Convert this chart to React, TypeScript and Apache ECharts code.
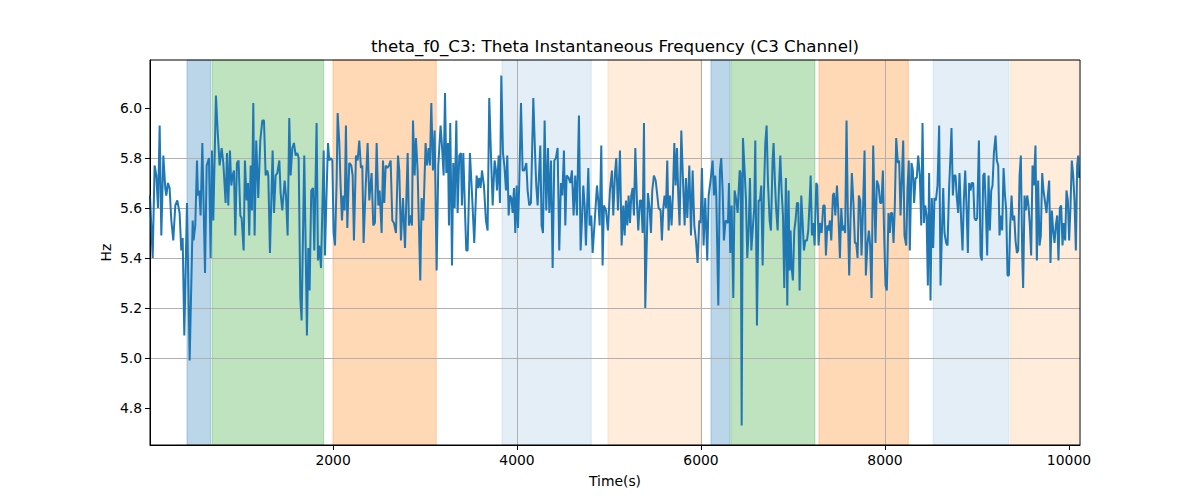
import React, { useEffect, useRef } from "react";
import * as echarts from "echarts";

// [time (s), instantaneous theta frequency (Hz)]
const readings: [number, number][] = [
  [10, 5.65], [39, 5.40], [60, 5.77], [79, 5.73], [97, 5.60], [115, 5.93], [133, 5.49], [155, 5.81], [176, 5.68], [187, 5.65],
  [205, 5.70], [223, 5.68], [242, 5.55], [263, 5.47], [285, 5.61], [307, 5.63], [332, 5.58], [350, 5.43], [365, 5.48], [383, 5.09],
  [412, 5.62], [441, 4.99], [474, 5.55], [484, 5.47], [502, 5.53], [521, 5.79], [531, 5.65], [546, 5.67], [560, 5.57], [579, 5.86],
  [608, 5.34], [626, 5.77], [651, 5.80], [669, 5.40], [684, 5.83], [698, 5.55], [727, 6.05], [745, 5.91], [767, 5.77], [789, 5.84],
  [807, 5.78], [832, 5.62], [847, 5.82], [861, 5.61], [879, 5.83], [894, 5.69], [908, 5.73], [923, 5.75], [937, 5.49], [955, 5.78],
  [973, 5.79], [992, 5.57], [1006, 5.56], [1028, 5.43], [1042, 5.79], [1060, 5.63], [1075, 5.70], [1089, 5.49], [1104, 5.77], [1118, 5.59],
  [1133, 6.02], [1147, 5.49], [1165, 5.87], [1187, 5.64], [1209, 5.87], [1231, 5.95],
  [1249, 5.95], [1267, 5.73], [1285, 5.75], [1296, 5.73], [1314, 5.42], [1343, 5.83], [1358, 5.58], [1376, 5.73], [1394, 5.74], [1416, 5.79],
  [1430, 5.66], [1448, 5.59], [1474, 5.71], [1488, 5.65], [1506, 5.49], [1524, 5.96], [1539, 5.73], [1557, 5.84], [1575, 5.86], [1593, 5.81],
  [1611, 5.82], [1626, 5.80], [1644, 5.24], [1658, 5.15], [1687, 5.81], [1702, 5.45], [1716, 5.09], [1731, 5.44], [1745, 5.27], [1763, 5.67],
  [1782, 5.68], [1796, 5.43], [1821, 5.94], [1836, 5.39], [1850, 5.45], [1869, 5.36], [1898, 5.83], [1912, 5.41], [1927, 5.63], [1945, 5.86],
  [1959, 5.79], [1974, 5.80], [1992, 5.79], [2006, 5.50], [2021, 5.45], [2039, 5.71], [2050, 5.98], [2068, 5.86], [2082, 5.69], [2097, 5.55],
  [2111, 5.65], [2126, 5.59], [2140, 5.93], [2155, 5.52], [2176, 5.78], [2198, 5.77], [2213, 5.73], [2227, 5.47], [2249, 5.81], [2267, 5.79],
  [2285, 5.87], [2303, 5.76], [2318, 5.77], [2332, 5.46], [2354, 5.68], [2376, 5.86], [2394, 5.63], [2419, 5.74], [2437, 5.53], [2455, 5.54],
  [2474, 5.86], [2492, 5.61], [2506, 5.67],
  [2528, 5.50], [2543, 5.79], [2557, 5.62], [2572, 5.77], [2590, 5.76], [2608, 5.77], [2626, 5.79], [2644, 5.55], [2662, 5.54], [2684, 5.50],
  [2706, 5.81], [2720, 5.75], [2738, 5.47], [2760, 5.64], [2782, 5.44], [2811, 5.82], [2825, 5.53], [2843, 5.57], [2858, 5.53], [2869, 5.95],
  [2887, 5.73], [2901, 5.88], [2919, 5.75], [2948, 5.31], [2963, 5.64], [2981, 5.55], [3006, 5.86], [3021, 5.77], [3039, 5.84], [3053, 5.77],
  [3068, 6.02], [3086, 5.75], [3104, 5.91], [3126, 5.35], [3144, 5.77], [3169, 5.93], [3184, 5.85], [3202, 5.73], [3217, 6.06], [3231, 5.74],
  [3249, 5.86], [3260, 5.53], [3274, 5.94], [3285, 5.63], [3293, 5.37], [3307, 5.78], [3322, 5.60], [3340, 5.95], [3354, 5.58], [3372, 5.81],
  [3390, 5.82], [3401, 5.61], [3416, 5.82], [3434, 5.59], [3448, 5.43], [3463, 5.43], [3488, 5.82], [3510, 5.66], [3535, 5.46], [3561, 5.73],
  [3575, 5.68], [3590, 5.72], [3604, 5.68], [3619, 5.75], [3640, 5.69], [3662, 5.55], [3680, 5.51], [3698, 6.04], [3716, 5.82], [3735, 5.61],
  [3756, 5.79],
  [3771, 5.75], [3782, 5.67], [3800, 5.81], [3814, 5.62], [3829, 6.13], [3847, 5.82], [3862, 5.77], [3880, 5.67], [3894, 5.81], [3909, 5.57],
  [3923, 5.65], [3938, 5.64], [3952, 5.58], [3967, 5.68], [3981, 5.50], [3996, 5.69], [4010, 5.52], [4025, 5.71], [4043, 6.02], [4061, 5.75],
  [4079, 5.75], [4101, 5.78], [4115, 5.67], [4133, 5.61], [4151, 5.62], [4177, 6.04], [4195, 5.83], [4209, 5.69], [4224, 5.61], [4253, 5.85],
  [4267, 5.53], [4282, 5.50], [4300, 5.95], [4318, 5.59], [4336, 5.84], [4351, 5.58], [4369, 5.79], [4387, 5.36], [4405, 5.79], [4423, 5.80],
  [4441, 5.84], [4459, 5.43], [4477, 5.70], [4492, 5.65], [4510, 5.83], [4525, 5.53], [4539, 5.73], [4561, 5.72], [4579, 5.70], [4597, 5.75],
  [4615, 5.57], [4633, 5.73], [4651, 5.57], [4673, 5.97], [4691, 5.43], [4706, 5.55], [4720, 5.69], [4735, 5.61], [4749, 5.45], [4775, 5.76],
  [4789, 5.53], [4807, 5.57], [4822, 5.42], [4843, 5.54], [4869, 5.69], [4883, 5.63], [4898, 5.53], [4916, 5.85], [4930, 5.37], [4945, 5.61],
  [4967, 5.59], [4988, 5.51], [5010, 5.67],
  [5032, 5.75], [5046, 5.57], [5065, 5.74], [5079, 5.80], [5097, 5.59], [5119, 5.83], [5137, 5.45], [5155, 5.61], [5170, 5.49], [5184, 5.63],
  [5199, 5.53], [5213, 5.65], [5228, 5.54], [5242, 5.65], [5257, 5.68], [5271, 5.57], [5286, 5.84], [5304, 5.62], [5318, 5.51], [5336, 5.63],
  [5351, 5.63], [5365, 5.50], [5380, 5.94], [5394, 5.20], [5423, 5.66], [5441, 5.60], [5456, 5.50], [5470, 5.67], [5488, 5.73], [5507, 5.71],
  [5525, 5.65], [5539, 5.60], [5561, 5.59], [5575, 5.47], [5590, 5.60], [5604, 5.65], [5619, 5.60], [5633, 5.79], [5648, 5.51], [5662, 5.65],
  [5680, 5.53], [5695, 5.66], [5710, 5.86], [5724, 5.69], [5739, 5.84], [5753, 5.65], [5767, 5.53], [5786, 5.91], [5804, 5.71], [5822, 5.53],
  [5836, 5.72], [5851, 5.56], [5873, 5.77], [5891, 5.49], [5909, 5.75], [5927, 5.53], [5945, 5.47], [5963, 5.38], [5981, 5.55], [5996, 5.54],
  [6010, 5.76], [6028, 5.45], [6046, 5.64], [6068, 5.39], [6083, 5.65], [6104, 5.71], [6126, 5.79], [6141, 5.65], [6155, 5.73], [6166, 5.65],
  [6188, 5.21], [6206, 5.75], [6220, 5.80], [6235, 5.67], [6249, 5.47], [6267, 5.55],
  [6293, 5.54], [6304, 5.70], [6318, 5.42], [6333, 5.61], [6351, 5.24], [6365, 5.67], [6384, 5.63], [6398, 5.58], [6420, 5.75], [6431, 5.74],
  [6442, 4.73], [6456, 5.88], [6474, 5.75], [6489, 5.63], [6503, 5.40], [6518, 5.51], [6532, 5.72], [6547, 5.43], [6565, 5.53], [6579, 5.60],
  [6590, 5.87], [6608, 5.13], [6626, 5.63], [6641, 5.63], [6655, 5.69], [6670, 5.37], [6684, 5.66], [6699, 5.86], [6713, 5.93], [6728, 5.70],
  [6746, 5.55], [6760, 5.51], [6778, 5.79], [6789, 5.86], [6804, 5.70], [6818, 5.59], [6833, 5.51], [6847, 5.68], [6862, 5.81], [6876, 5.67],
  [6891, 5.57], [6905, 5.28], [6923, 5.72], [6938, 5.21], [6952, 5.67], [6963, 5.35], [6974, 5.51], [6985, 5.36], [6999, 5.31], [7014, 5.51],
  [7028, 5.55], [7043, 5.62], [7057, 5.62], [7072, 5.27], [7090, 5.65], [7105, 5.54], [7119, 5.43], [7134, 5.47], [7152, 5.47], [7166, 5.51],
  [7181, 5.63], [7192, 5.73], [7206, 5.49], [7220, 5.54], [7235, 5.45], [7253, 5.70], [7264, 5.69], [7278, 5.45], [7293, 5.54], [7311, 5.50],
  [7329, 5.61], [7344, 5.61], [7358, 5.41], [7373, 5.53], [7387, 5.51], [7402, 5.55], [7416, 5.47], [7434, 5.65], [7445, 5.66], [7460, 5.57],
  [7478, 5.69], [7492, 5.59], [7510, 5.40], [7525, 5.60], [7539, 5.51],
  [7553, 5.53], [7567, 5.50], [7582, 5.95], [7596, 5.58], [7611, 5.33], [7625, 5.55], [7640, 5.74], [7658, 5.61], [7673, 5.46], [7687, 5.46],
  [7702, 5.40], [7716, 5.65], [7731, 5.63], [7745, 5.41], [7760, 5.58], [7778, 5.83], [7792, 5.33], [7810, 5.46], [7825, 5.51], [7839, 5.45],
  [7854, 5.24], [7872, 5.85], [7886, 5.61], [7897, 5.46], [7912, 5.71], [7930, 5.69], [7948, 5.62], [7962, 5.62], [7977, 5.75], [7991, 5.49],
  [8006, 5.29], [8020, 5.27], [8038, 5.58], [8053, 5.50], [8064, 5.58], [8078, 5.58], [8093, 5.46], [8107, 5.61], [8122, 5.88], [8140, 5.78],
  [8154, 5.79], [8169, 5.57], [8183, 5.71], [8198, 5.87], [8212, 5.49], [8231, 5.45], [8245, 5.68], [8259, 5.79], [8270, 5.43], [8288, 5.78],
  [8303, 5.75], [8317, 5.62], [8332, 5.72], [8346, 5.72], [8361, 5.81], [8379, 5.73], [8394, 5.53], [8408, 5.94], [8423, 5.54], [8437, 5.61],
  [8452, 5.57], [8466, 5.29], [8480, 5.74], [8495, 5.23], [8509, 5.64], [8524, 5.44], [8538, 5.64], [8553, 5.63], [8571, 5.69], [8589, 5.93],
  [8604, 5.29], [8618, 5.49], [8633, 5.68], [8647, 5.50], [8665, 5.46], [8680, 5.45], [8698, 5.69], [8712, 5.81], [8723, 5.92], [8738, 5.65],
  [8752, 5.73], [8767, 5.73], [8781, 5.64], [8796, 5.58], [8810, 5.74],
  [8828, 5.55], [8843, 5.43], [8857, 5.63], [8872, 5.75], [8886, 5.61], [8901, 5.42], [8915, 5.70], [8930, 5.67], [8944, 5.70], [8959, 5.70],
  [8973, 5.56], [8988, 5.55], [9002, 5.56], [9021, 5.87], [9039, 5.41], [9053, 5.39], [9068, 5.73], [9082, 5.74], [9097, 5.59], [9111, 5.41],
  [9126, 5.73], [9140, 5.51], [9155, 5.67], [9169, 5.69], [9184, 5.82], [9202, 5.89], [9216, 5.79], [9231, 5.77], [9245, 5.49], [9260, 5.57],
  [9274, 5.51], [9289, 5.76], [9303, 5.66], [9318, 5.59], [9332, 5.33], [9347, 5.33], [9361, 5.53], [9376, 5.65], [9390, 5.55], [9405, 5.57],
  [9419, 5.47], [9434, 5.42], [9448, 5.43], [9463, 5.73], [9477, 5.81], [9492, 5.41], [9502, 5.28], [9517, 5.65], [9531, 5.59], [9546, 5.65],
  [9560, 5.61], [9575, 5.53], [9589, 5.41], [9604, 5.77], [9618, 5.69], [9636, 5.85], [9651, 5.39], [9665, 5.71], [9680, 5.45], [9694, 5.49],
  [9709, 5.74], [9723, 5.67], [9738, 5.63], [9756, 5.58], [9770, 5.65], [9785, 5.71], [9799, 5.38], [9814, 5.59], [9828, 5.51], [9843, 5.46],
  [9857, 5.53], [9872, 5.57], [9886, 5.39], [9901, 5.60], [9915, 5.61], [9930, 5.45], [9944, 5.54], [9959, 5.47], [9973, 5.67], [9988, 5.63],
  [10002, 5.47], [10017, 5.61], [10031, 5.79], [10046, 5.73], [10060, 5.63], [10075, 5.43], [10089, 5.77], [10100, 5.81], [10111, 5.72],
];

// shaded intervals
const spanStarts = [412, 684, 1999, 3836, 4988, 6108, 6325, 7282, 8524, 9366];
const spanEnds = [668, 1898, 3122, 4807, 6000, 6314, 7238, 8254, 9348, 10100];
const spanKinds = ["blue", "green", "orange", "paleBlue", "paleOrange", "blue", "green", "orange", "paleBlue", "paleOrange"];

const xTicks = [2000, 4000, 6000, 8000, 10000];
const yTicks = [4.8, 5.0, 5.2, 5.4, 5.6, 5.8, 6.0];

const X_MIN = 10;
const X_MAX = 10120;
const Y_MIN = 4.652;
const Y_MAX = 6.192;

const TITLE = "theta_f0_C3: Theta Instantaneous Frequency (C3 Channel)";
const X_NAME = "Time(s)";
const Y_NAME = "Hz";

const kindColor: Record<string, string> = {
  blue: "rgba(31,119,180,0.3)",
  green: "rgba(44,160,44,0.3)",
  orange: "rgba(255,127,14,0.3)",
  paleBlue: "rgba(31,119,180,0.12)",
  paleOrange: "rgba(255,127,14,0.15)",
};

const FONT = "DejaVu Sans";
const GRID = { left: 150, top: 60, width: 930, height: 385 };

export default function App() {
  const ref = useRef<HTMLDivElement>(null);

  useEffect(() => {
    document.body.style.margin = "0";
    if (!ref.current) return;
    const chart = echarts.init(ref.current, undefined, { renderer: "svg" });

    const areas = spanStarts.map((s, i) => {
      const c = kindColor[spanKinds[i]];
      return [
        { xAxis: s, itemStyle: { color: c, borderColor: c, borderWidth: 1 } },
        { xAxis: spanEnds[i] },
      ];
    });

    const axisText = { fontFamily: FONT, fontSize: 13.9, color: "#000" };

    chart.setOption({
      animation: false,
      textStyle: { fontFamily: FONT },
      grid: { ...GRID, show: false },
      xAxis: {
        type: "value",
        min: X_MIN,
        max: X_MAX,
        z: 3,
        axisLine: { show: true, lineStyle: { color: "#000", width: 1 } },
        axisTick: { show: true, length: 5, inside: false, customValues: xTicks, lineStyle: { color: "#000", width: 1 } },
        axisLabel: { ...axisText, margin: 8, customValues: xTicks, formatter: (v: number) => String(v) },
        splitLine: { show: true, showMinLine: false, showMaxLine: false, lineStyle: { color: "#b0b0b0", width: 1 } },
      },
      yAxis: {
        type: "value",
        min: Y_MIN,
        max: Y_MAX,
        z: 3,
        axisLine: { show: true, lineStyle: { color: "#000", width: 1 } },
        axisTick: { show: true, length: 5, inside: false, customValues: yTicks, lineStyle: { color: "#000", width: 1 } },
        axisLabel: { ...axisText, margin: 8, customValues: yTicks, formatter: (v: number) => v.toFixed(1) },
        splitLine: { show: true, showMinLine: false, showMaxLine: false, lineStyle: { color: "#b0b0b0", width: 1 } },
      },
      series: [
        {
          type: "line",
          name: "spans",
          z: 1,
          data: [],
          silent: true,
          markArea: { silent: true, data: areas },
        },
        {
          type: "line",
          name: "theta",
          z: 5,
          data: readings,
          showSymbol: false,
          symbol: "none",
          lineStyle: { color: "#1f77b4", width: 2 },
          itemStyle: { color: "#1f77b4" },
          clip: true,
        },
      ],
      graphic: [
        {
          type: "rect",
          z: 100,
          silent: true,
          shape: { x: GRID.left, y: GRID.top, width: GRID.width, height: GRID.height },
          style: { fill: "none", stroke: "#000", lineWidth: 1 },
        },
        {
          type: "text",
          z: 100,
          x: GRID.left + GRID.width / 2,
          y: 46,
          style: { text: TITLE, font: `16.7px "${FONT}"`, fill: "#000", textAlign: "center", textVerticalAlign: "middle" },
        },
        {
          type: "text",
          z: 100,
          x: GRID.left + GRID.width / 2,
          y: 481,
          style: { text: X_NAME, font: `13.9px "${FONT}"`, fill: "#000", textAlign: "center", textVerticalAlign: "middle" },
        },
        {
          type: "text",
          z: 100,
          x: 106,
          y: GRID.top + GRID.height / 2,
          rotation: Math.PI / 2,
          style: { text: Y_NAME, font: `13.9px "${FONT}"`, fill: "#000", textAlign: "center", textVerticalAlign: "middle" },
        },
      ],
    });

    return () => chart.dispose();
  }, []);

  return <div ref={ref} style={{ width: 1200, height: 500 }} />;
}
